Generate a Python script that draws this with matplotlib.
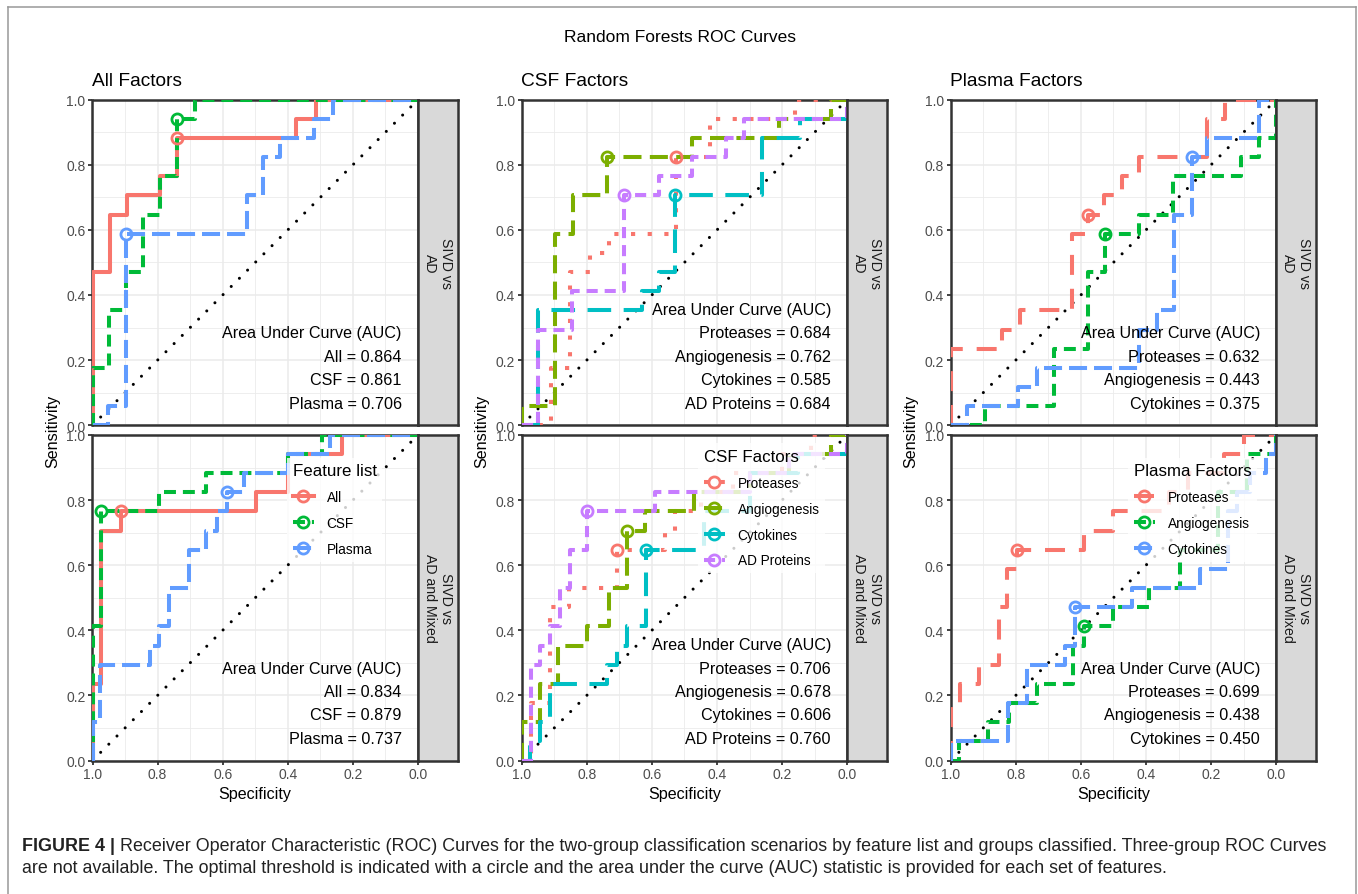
# %%
import numpy as np
import matplotlib
matplotlib.use("Agg")
import matplotlib.pyplot as plt
from matplotlib.lines import Line2D

plt.rcParams['font.family'] = ['Liberation Sans', 'DejaVu Sans']
plt.rcParams['lines.scale_dashes'] = False

# %%
# ROC points: at each specificity the sensitivity steps up to that value
# All Factors - SIVD vs AD
all_ad_spec = [1, 1, 0.946, 0.894, 0.794, 0.739, 0.374, 0.312, 0]
all_ad_sens = [0, 0.471, 0.647, 0.706, 0.765, 0.882, 0.941, 1, 1]
csf_ad_spec = [1, 1, 0.949, 0.898, 0.845, 0.793, 0.739, 0.685, 0]
csf_ad_sens = [0, 0.176, 0.353, 0.471, 0.647, 0.765, 0.941, 1, 1]
plasma_ad_spec = [1, 0.951, 0.897, 0.526, 0.476, 0.423, 0.319, 0.261, 0]
plasma_ad_sens = [0, 0.059, 0.588, 0.706, 0.824, 0.882, 0.941, 1, 1]

# All Factors - SIVD vs AD and Mixed
all_mx_spec = [1, 1, 0.973, 0.912, 0.497, 0.4, 0.234, 0]
all_mx_sens = [0, 0.235, 0.706, 0.765, 0.824, 0.941, 1, 1]
csf_mx_spec = [1, 1, 0.973, 0.797, 0.651, 0.4, 0.295, 0]
csf_mx_sens = [0, 0.412, 0.765, 0.824, 0.882, 0.941, 1, 1]
plasma_mx_spec = [1, 1, 0.976, 0.823, 0.797, 0.766, 0.705, 0.651, 0.618, 0.588, 0.535, 0.4, 0.27, 0]
plasma_mx_sens = [0, 0.118, 0.294, 0.353, 0.412, 0.529, 0.647, 0.706, 0.765, 0.824, 0.882, 0.941, 1, 1]

# CSF Factors - SIVD vs AD
prot_csf_ad_spec = [1, 0.91, 0.853, 0.79, 0.733, 0.526, 0.42, 0.159, 0]
prot_csf_ad_sens = [0, 0.176, 0.471, 0.529, 0.588, 0.824, 0.941, 1, 1]
angio_csf_ad_spec = [1, 1, 0.897, 0.843, 0.738, 0.477, 0.21, 0.051, 0]
angio_csf_ad_sens = [0, 0.059, 0.588, 0.706, 0.824, 0.882, 0.941, 1, 1]
cyto_csf_ad_spec = [1, 0.949, 0.631, 0.579, 0.528, 0.262, 0.144, 0]
cyto_csf_ad_sens = [0, 0.353, 0.412, 0.471, 0.706, 0.882, 0.941, 1]
adp_csf_ad_spec = [1, 0.949, 0.846, 0.687, 0.579, 0.477, 0.372, 0.318, 0]
adp_csf_ad_sens = [0, 0.294, 0.412, 0.706, 0.765, 0.824, 0.882, 0.941, 1]

# CSF Factors - SIVD vs AD and Mixed
prot_csf_mx_spec = [1, 0.97, 0.913, 0.856, 0.708, 0.56, 0.53, 0.45, 0.35, 0.2, 0.11, 0]
prot_csf_mx_sens = [0, 0.176, 0.471, 0.529, 0.647, 0.706, 0.765, 0.824, 0.882, 0.941, 1, 1]
angio_csf_mx_spec = [1, 1, 0.944, 0.887, 0.8, 0.733, 0.677, 0.62, 0.472, 0.3, 0.18, 0.05, 0]
angio_csf_mx_sens = [0, 0.118, 0.235, 0.353, 0.412, 0.529, 0.706, 0.765, 0.824, 0.882, 0.941, 1, 1]
cyto_csf_mx_spec = [1, 0.974, 0.944, 0.913, 0.738, 0.708, 0.677, 0.618, 0.44, 0.3, 0.15, 0]
cyto_csf_mx_sens = [0, 0.059, 0.118, 0.235, 0.294, 0.353, 0.412, 0.647, 0.765, 0.882, 0.941, 1]
adp_csf_mx_spec = [1, 0.972, 0.944, 0.913, 0.882, 0.853, 0.8, 0.59, 0.3, 0.18, 0]
adp_csf_mx_sens = [0, 0.294, 0.353, 0.412, 0.529, 0.647, 0.765, 0.824, 0.882, 0.941, 1]

# Plasma Factors - SIVD vs AD
prot_pl_ad_spec = [1, 1, 0.843, 0.787, 0.628, 0.577, 0.529, 0.474, 0.42, 0.213, 0.157, 0]
prot_pl_ad_sens = [0, 0.235, 0.294, 0.353, 0.588, 0.647, 0.706, 0.765, 0.824, 0.941, 1, 1]
angio_pl_ad_spec = [1, 0.894, 0.684, 0.579, 0.526, 0.423, 0.316, 0.109, 0.054, 0]
angio_pl_ad_sens = [0, 0.059, 0.235, 0.471, 0.588, 0.647, 0.765, 0.824, 0.882, 1]
cyto_pl_ad_spec = [1, 0.951, 0.792, 0.736, 0.423, 0.367, 0.314, 0.26, 0.213, 0.054, 0]
cyto_pl_ad_sens = [0, 0.059, 0.118, 0.176, 0.294, 0.353, 0.647, 0.824, 0.882, 1, 1]

# Plasma Factors - SIVD vs AD and Mixed
prot_pl_mx_spec = [1, 1, 0.971, 0.913, 0.853, 0.828, 0.797, 0.59, 0.5, 0.33, 0.27, 0.16, 0.1, 0]
prot_pl_mx_sens = [0, 0.176, 0.235, 0.294, 0.471, 0.588, 0.647, 0.706, 0.765, 0.824, 0.882, 0.941, 1, 1]
angio_pl_mx_spec = [1, 0.973, 0.885, 0.82, 0.736, 0.623, 0.589, 0.5, 0.392, 0.295, 0.18, 0.09, 0]
angio_pl_mx_sens = [0, 0.059, 0.118, 0.176, 0.235, 0.353, 0.412, 0.471, 0.529, 0.647, 0.824, 0.941, 1]
cyto_pl_mx_spec = [1, 1, 0.823, 0.766, 0.649, 0.618, 0.444, 0.234, 0.147, 0.12, 0.08, 0.03, 0]
cyto_pl_mx_sens = [0, 0.059, 0.176, 0.294, 0.353, 0.471, 0.529, 0.588, 0.765, 0.824, 0.882, 0.941, 1]

# optimal thresholds (circles)
opt_all_ad = ([0.739, 0.739, 0.897], [0.882, 0.941, 0.588])
opt_all_mx = ([0.912, 0.973, 0.588], [0.765, 0.765, 0.824])
opt_csf_ad = ([0.526, 0.738, 0.528, 0.687], [0.824, 0.824, 0.706, 0.706])
opt_csf_mx = ([0.708, 0.677, 0.618, 0.8], [0.647, 0.706, 0.647, 0.765])
opt_pl_ad = ([0.577, 0.526, 0.26], [0.647, 0.588, 0.824])
opt_pl_mx = ([0.797, 0.589, 0.618], [0.647, 0.412, 0.471])

# AUC values
auc_all_ad = [0.864, 0.861, 0.706]
auc_all_mx = [0.834, 0.879, 0.737]
auc_csf_ad = [0.684, 0.762, 0.585, 0.684]
auc_csf_mx = [0.706, 0.678, 0.606, 0.760]
auc_pl_ad = [0.632, 0.443, 0.375]
auc_pl_mx = [0.699, 0.438, 0.450]

all_names = ['All', 'CSF', 'Plasma']
csf_names = ['Proteases', 'Angiogenesis', 'Cytokines', 'AD Proteins']
pl_names = ['Proteases', 'Angiogenesis', 'Cytokines']

# %%
# styles (ggplot hue palette, linetypes in points)
col3 = ['#F8766D', '#00BA38', '#619CFF']
col4 = ['#F8766D', '#7CAE00', '#00BFC4', '#C77CFF']
ls_all = ['-', (0, (8.6, 5)), (0, (13, 5))]
ls_csf = [(0, (3, 9)), (0, (13, 6)), (0, (17, 9)), (0, (8, 5))]
ls_pl = [(0, (14.4, 10)), (0, (8.6, 5)), (0, (13, 5))]
LW = 2.9

W, H = 1358, 895
fig = plt.figure(figsize=(W / 100, H / 100), dpi=100)


def fx(px):
    return px / W


def fy(py):
    return 1 - py / H


col_x = [92.5, 521.7, 950.7]
row_y = [100.7, 436]
PW, PH, SW = 325.5, 325.5, 40

panels = [
    (0, 0, [(all_ad_spec, all_ad_sens), (csf_ad_spec, csf_ad_sens), (plasma_ad_spec, plasma_ad_sens)],
     opt_all_ad, auc_all_ad, all_names, col3, ls_all, None),
    (1, 0, [(all_mx_spec, all_mx_sens), (csf_mx_spec, csf_mx_sens), (plasma_mx_spec, plasma_mx_sens)],
     opt_all_mx, auc_all_mx, all_names, col3, ls_all, 'Feature list'),
    (0, 1, [(prot_csf_ad_spec, prot_csf_ad_sens), (angio_csf_ad_spec, angio_csf_ad_sens),
            (cyto_csf_ad_spec, cyto_csf_ad_sens), (adp_csf_ad_spec, adp_csf_ad_sens)],
     opt_csf_ad, auc_csf_ad, csf_names, col4, ls_csf, None),
    (1, 1, [(prot_csf_mx_spec, prot_csf_mx_sens), (angio_csf_mx_spec, angio_csf_mx_sens),
            (cyto_csf_mx_spec, cyto_csf_mx_sens), (adp_csf_mx_spec, adp_csf_mx_sens)],
     opt_csf_mx, auc_csf_mx, csf_names, col4, ls_csf, 'CSF Factors'),
    (0, 2, [(prot_pl_ad_spec, prot_pl_ad_sens), (angio_pl_ad_spec, angio_pl_ad_sens),
            (cyto_pl_ad_spec, cyto_pl_ad_sens)],
     opt_pl_ad, auc_pl_ad, pl_names, col3, ls_pl, None),
    (1, 2, [(prot_pl_mx_spec, prot_pl_mx_sens), (angio_pl_mx_spec, angio_pl_mx_sens),
            (cyto_pl_mx_spec, cyto_pl_mx_sens)],
     opt_pl_mx, auc_pl_mx, pl_names, col3, ls_pl, 'Plasma Factors'),
]
strip_labels = ['SIVD vs\nAD', 'SIVD vs\nAD and Mixed']
legend_anchor = {0: (0.598, 0.93), 1: (0.542, 0.975), 2: (0.545, 0.93)}

for row, col, curves, opt, aucs, names, colors, styles, leg_title in panels:
    x0, y0 = col_x[col], row_y[row]
    ax = fig.add_axes([fx(x0), fy(y0 + PH), PW / W, PH / H])
    ax.set_xlim(1, 0)
    ax.set_ylim(0, 1)
    ticks = np.arange(0, 1.01, 0.2)
    ax.set_xticks(ticks)
    ax.set_yticks(ticks)
    ax.set_xticks(np.arange(0.1, 1, 0.2), minor=True)
    ax.set_yticks(np.arange(0.1, 1, 0.2), minor=True)
    ax.set_xticklabels(['%.1f' % t for t in ticks])
    ax.set_yticklabels(['%.1f' % t for t in ticks])
    ax.tick_params(which='major', length=3, width=1.3, color='#333333',
                   labelcolor='#4D4D4D', labelsize=10, pad=2)
    ax.tick_params(which='minor', length=0)
    if row == 0:
        ax.tick_params(axis='x', bottom=False, labelbottom=False)
    ax.grid(which='major', color='#EBEBEB', lw=1.1)
    ax.grid(which='minor', color='#EBEBEB', lw=0.6)
    ax.set_axisbelow(True)
    for sp in ax.spines.values():
        sp.set_color('#333333')
        sp.set_linewidth(1.8)

    # chance line
    ax.plot([1, 0], [0, 1], color='black', lw=2.2, linestyle=(0, (0.01, 8.3)),
            dash_capstyle='round', zorder=2)

    for (spec, sens), c, ls in zip(curves, colors, styles):
        ax.plot(spec, sens, drawstyle='steps-post', color=c, lw=LW, linestyle=ls,
                solid_capstyle='butt', dash_capstyle='butt', zorder=3)
    for sx, sy, c in zip(opt[0], opt[1], colors):
        ax.plot(sx, sy, 'o', mfc='none', mec=c, ms=8, mew=2, zorder=4)

    # AUC annotation
    lines = ['Area Under Curve (AUC)'] + ['%s = %.3f' % (n, a) for n, a in zip(names, aucs)]
    for i, s in enumerate(lines):
        yy = 0.068 + 0.072 * (len(lines) - 1 - i)
        ax.text(0.05, yy, s, ha='right', va='center', fontsize=11.6, color='black', zorder=6)

    if leg_title is not None:
        handles = [Line2D([], [], color=c, lw=LW, linestyle=ls, marker='o', mfc='none',
                          mec=c, ms=8, mew=2)
                   for c, ls in zip(colors, styles)]
        leg = ax.legend(handles, names, title=leg_title, loc='upper left',
                        bbox_to_anchor=legend_anchor[col], fontsize=9.8, title_fontsize=12.2,
                        frameon=True, framealpha=0.8, facecolor='white', edgecolor='none',
                        fancybox=False, borderpad=0.4, borderaxespad=0, labelspacing=0.88,
                        handlelength=1.6, handletextpad=0.9, alignment='left')
        leg.set_zorder(5)

    # facet strip
    sax = fig.add_axes([fx(x0 + PW), fy(y0 + PH), SW / W, PH / H])
    sax.set_facecolor('#D9D9D9')
    sax.set_xticks([])
    sax.set_yticks([])
    for sp in sax.spines.values():
        sp.set_color('#333333')
        sp.set_linewidth(1.8)
    sax.text(0.5, 0.5, strip_labels[row], rotation=-90, ha='center', va='center',
             fontsize=10.2, color='#1A1A1A', multialignment='center', transform=sax.transAxes)

# %%
# column titles and axis labels
col_titles = ['All Factors', 'CSF Factors', 'Plasma Factors']
for col in range(3):
    x0 = col_x[col]
    fig.text(fx(x0 - 1), fy(82), col_titles[col], fontsize=13.8, ha='left', va='center')
    fig.text(fx(x0 - 40), fy(431), 'Sensitivity', rotation=90, fontsize=11.6, ha='center', va='center')
    fig.text(fx(x0 + PW / 2), fy(795), 'Specificity', fontsize=11.6, ha='center', va='center')

fig.text(fx(680), fy(38), 'Random Forests ROC Curves', fontsize=12.5, ha='center', va='center')

# outer frame
frame_kw = dict(color='#999999', lw=1.1, transform=fig.transFigure)
fig.add_artist(Line2D([fx(8), fx(8)], [fy(8), 0], **frame_kw))
fig.add_artist(Line2D([fx(8), fx(1356)], [fy(8), fy(8)], **frame_kw))
fig.add_artist(Line2D([fx(1356), fx(1356)], [fy(8), 0], **frame_kw))

# caption
cap1 = ('Receiver Operator Characteristic (ROC) Curves for the two-group classification scenarios '
        'by feature list and groups classified. Three-group ROC Curves')
cap2 = ('are not available. The optimal threshold is indicated with a circle and the area under '
        'the curve (AUC) statistic is provided for each set of features.')
t1 = fig.text(fx(22), fy(847), 'FIGURE 4 |', fontsize=12.9, weight='bold', color='#222222',
              ha='left', va='center')
fig.canvas.draw()
bb = t1.get_window_extent()
fig.text(bb.x1 / W + 5 / W, fy(847), cap1, fontsize=12.9, color='#222222', ha='left', va='center')
fig.text(fx(22), fy(869), cap2, fontsize=12.9, color='#222222', ha='left', va='center')

fig.savefig('out.png', dpi=100)
